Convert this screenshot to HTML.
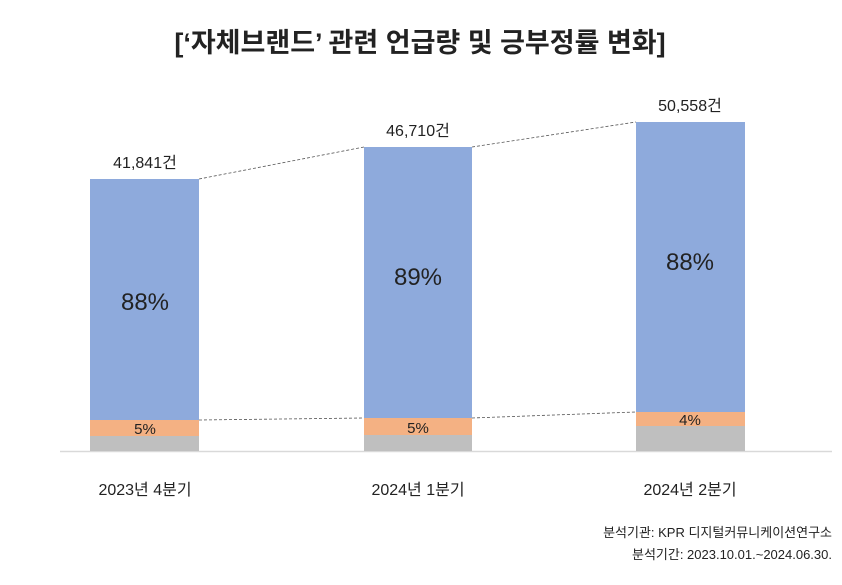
<!DOCTYPE html>
<html><head><meta charset="utf-8"><style>
body{margin:0;background:#fff;}
svg text{font-family:"Liberation Sans","Noto Sans CJK KR",sans-serif;fill:#222;}
</style></head><body>
<svg width="842" height="580" viewBox="0 0 842 580" xmlns="http://www.w3.org/2000/svg">
<text x="420" y="52" text-anchor="middle" font-size="27" font-weight="600" fill="#333">[‘자체브랜드’ 관련 언급량 및 긍부정률 변화]</text>
<line x1="60" y1="451.5" x2="832" y2="451.5" stroke="#d9d9d9" stroke-width="1.5"/>
<rect x="90" y="179" width="109" height="241" fill="#8eaadc"/>
<rect x="90" y="420" width="109" height="16" fill="#f4b183"/>
<rect x="90" y="436" width="109" height="15" fill="#bfbfbf"/>
<rect x="364" y="147" width="108" height="271" fill="#8eaadc"/>
<rect x="364" y="418" width="108" height="17" fill="#f4b183"/>
<rect x="364" y="435" width="108" height="16" fill="#bfbfbf"/>
<rect x="636" y="122" width="109" height="290" fill="#8eaadc"/>
<rect x="636" y="412" width="109" height="14" fill="#f4b183"/>
<rect x="636" y="426" width="109" height="25" fill="#bfbfbf"/>
<g stroke="#555" stroke-width="0.8" stroke-dasharray="3,2">
<line x1="199" y1="179" x2="364" y2="147"/>
<line x1="472" y1="147" x2="636" y2="122"/>
<line x1="199" y1="420" x2="364" y2="418"/>
<line x1="472" y1="418" x2="636" y2="412"/>
</g>
<g font-size="16" text-anchor="middle">
<text x="145" y="168">41,841건</text>
<text x="418" y="136">46,710건</text>
<text x="690" y="111">50,558건</text>
</g>
<g font-size="24" text-anchor="middle" fill="#111">
<text x="145" y="310">88%</text>
<text x="418" y="285">89%</text>
<text x="690" y="270">88%</text>
</g>
<g font-size="15" text-anchor="middle">
<text x="145" y="434">5%</text>
<text x="418" y="433">5%</text>
<text x="690" y="425">4%</text>
</g>
<g font-size="16" text-anchor="middle" fill="#333">
<text x="145" y="495">2023년 4분기</text>
<text x="418" y="495">2024년 1분기</text>
<text x="690" y="495">2024년 2분기</text>
</g>
<g font-size="13" text-anchor="end" fill="#333">
<text x="832" y="537">분석기관: KPR 디지털커뮤니케이션연구소</text>
<text x="832" y="559">분석기간: 2023.10.01.~2024.06.30.</text>
</g>
</svg>
</body></html>
